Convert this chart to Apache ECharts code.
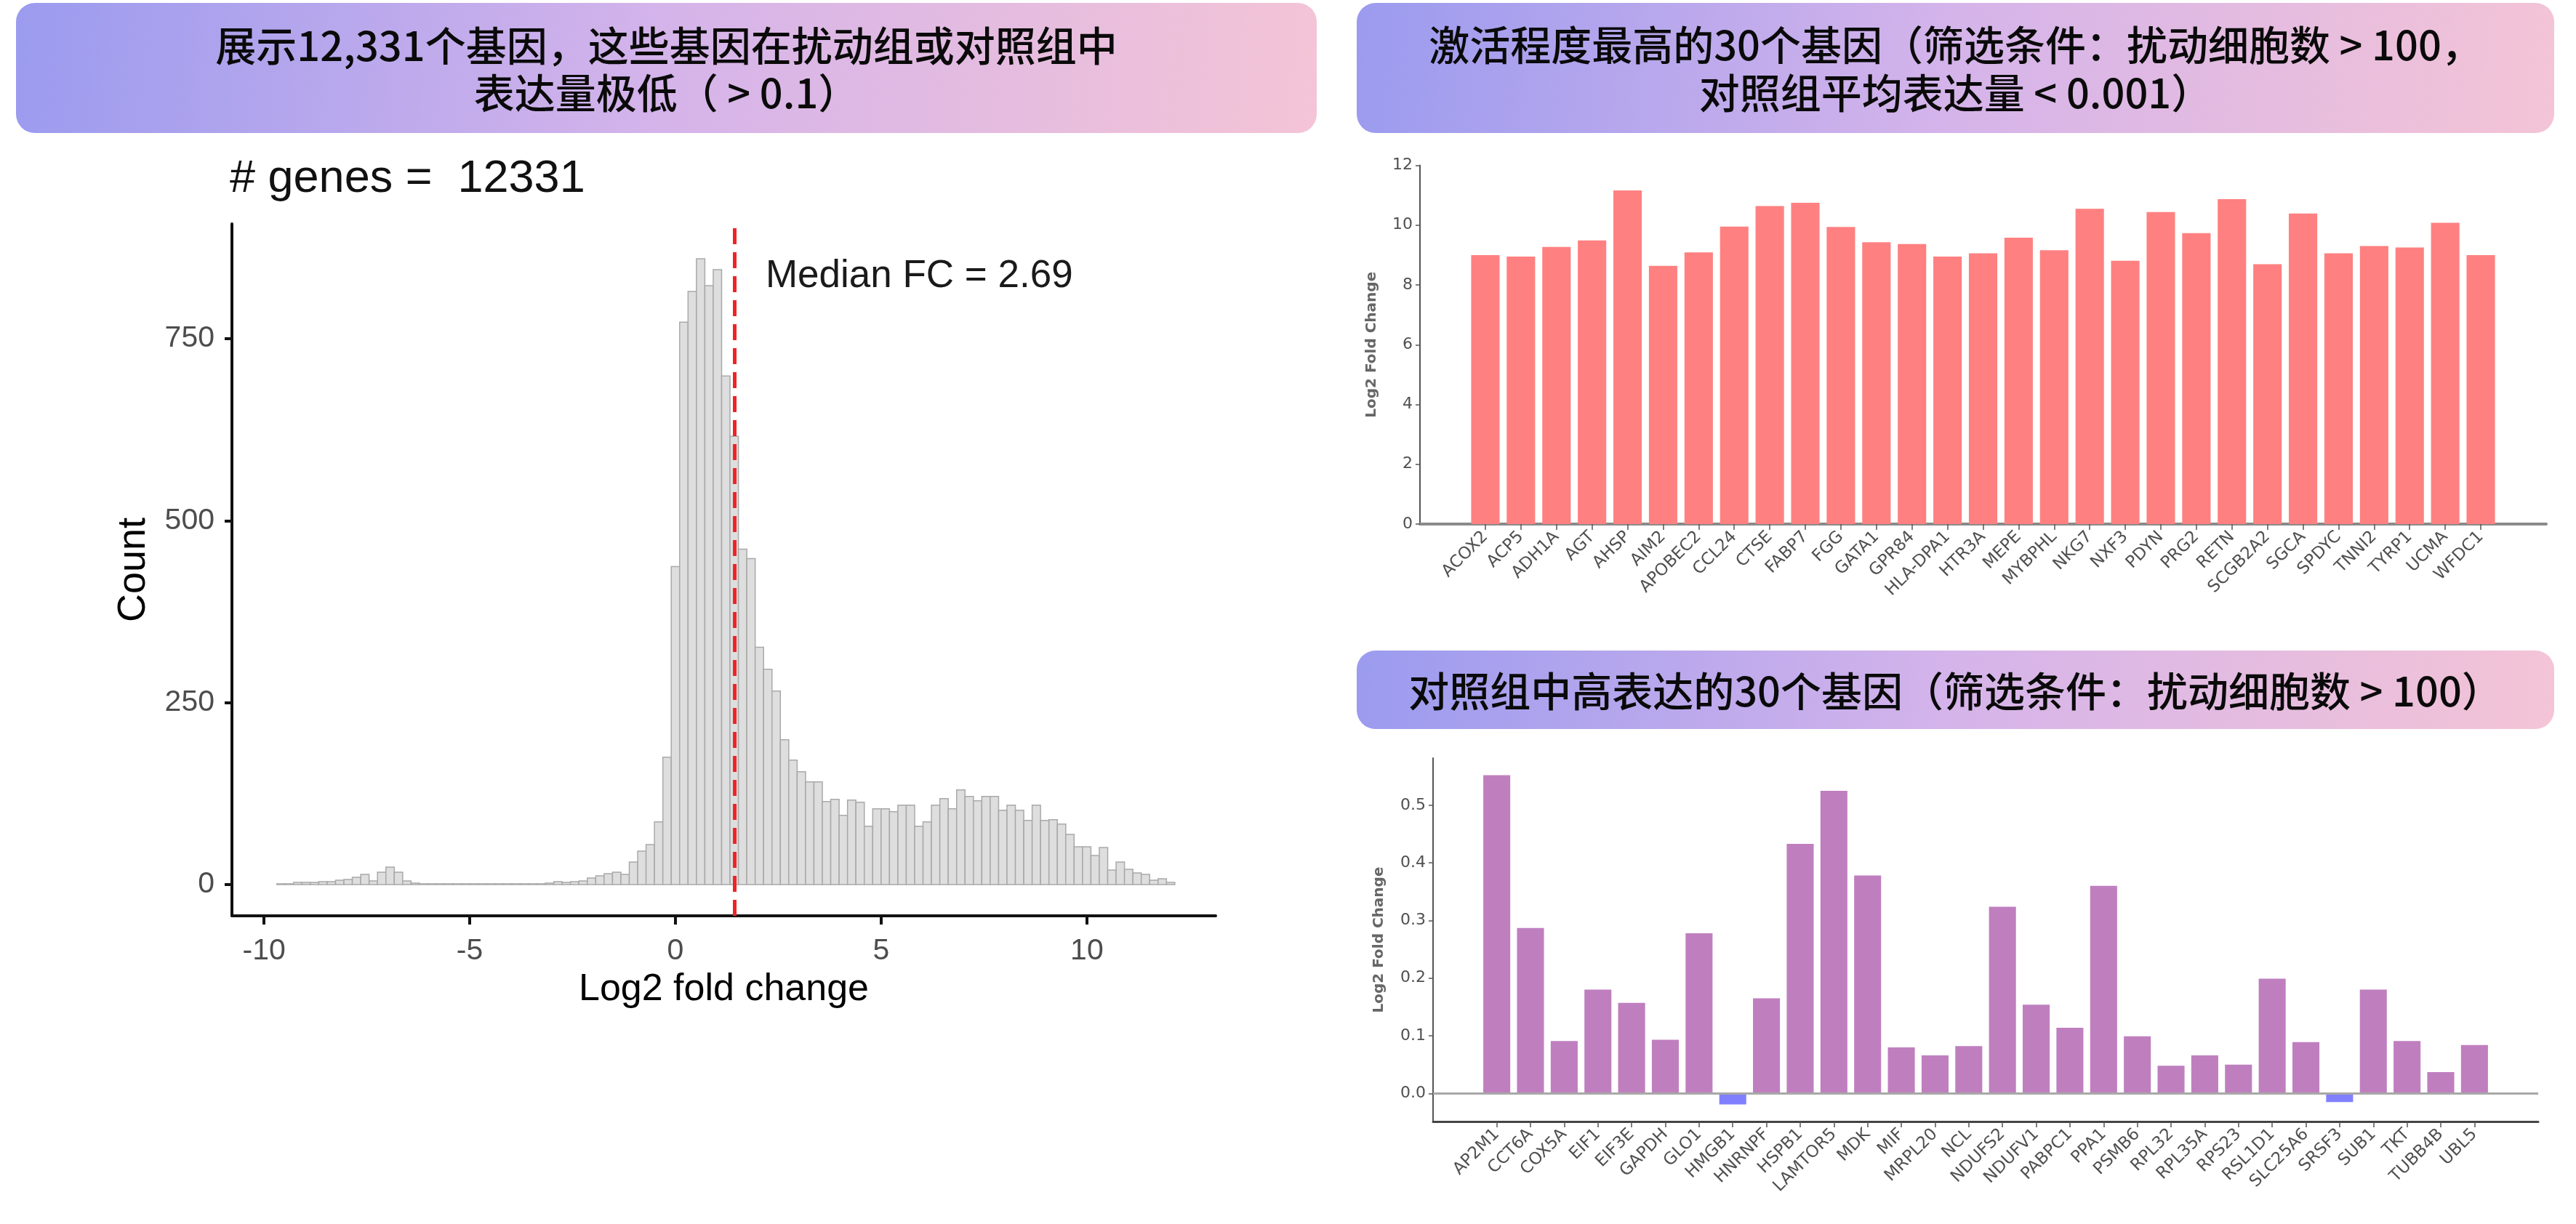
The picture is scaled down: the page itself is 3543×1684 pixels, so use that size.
<!DOCTYPE html>
<html>
<head>
<meta charset="utf-8">
<script src="https://cdn.jsdelivr.net/npm/echarts@6/dist/echarts.min.js"></script>
<style>
html, body { margin: 0; padding: 0; background: #fff; }
#chart { width: 3543px; height: 1684px; }
</style>
</head>
<body>
<div id="chart"></div>
<script>
// 左图：log2 fold change 直方图（每个 bin 的计数）
const histFirstEdge = -9.69
const histBinWidth = 0.204
const histCounts = [
  1, 1, 3, 3, 3, 4, 4, 6, 7, 10, 14, 5, 17, 24, 17, 5, 2,
  1, 1, 1, 1, 1, 1, 1, 1, 1, 1, 1, 1, 1, 1, 1,
  2, 4, 3, 4, 5, 9, 12, 15, 17, 14, 31, 46, 55, 86, 175,
  437, 773, 815, 860, 823, 845, 699, 616, 461, 448,
  326, 296, 266, 199, 171, 155, 141, 141, 114, 117,
  95, 116, 113, 80, 104, 104, 100, 109, 109, 80,
  86, 109, 118, 104, 130, 121, 115, 121, 121, 102,
  109, 102, 88, 109, 88, 89, 83, 69, 52, 52,
  40, 51, 20, 31, 21, 16, 14, 6, 8, 3
]
const medianLog2FC = 1.43
const medianText = 'Median FC = 2.69'
const histTitle = '# genes =  12331'
const histTicksX = [-10, -5, 0, 5, 10]
const histTicksY = [0, 250, 500, 750]

// 右上：激活程度最高的基因
const topGenes = ['ACOX2', 'ACP5', 'ADH1A', 'AGT', 'AHSP', 'AIM2', 'APOBEC2', 'CCL24', 'CTSE', 'FABP7',
  'FGG', 'GATA1', 'GPR84', 'HLA-DPA1', 'HTR3A', 'MEPE', 'MYBPHL', 'NKG7', 'NXF3', 'PDYN',
  'PRG2', 'RETN', 'SCGB2A2', 'SGCA', 'SPDYC', 'TNNI2', 'TYRP1', 'UCMA', 'WFDC1']
const topLFC = [9.0, 8.95, 9.27, 9.49, 11.16, 8.64, 9.09, 9.95, 10.64, 10.75,
  9.94, 9.43, 9.37, 8.95, 9.06, 9.58, 9.16, 10.55, 8.81, 10.44,
  9.73, 10.87, 8.69, 10.39, 9.06, 9.30, 9.25, 10.08, 9.0]

// 右下：对照组中高表达的基因
const ctrlGenes = ['AP2M1', 'CCT6A', 'COX5A', 'EIF1', 'EIF3E', 'GAPDH', 'GLO1', 'HMGB1', 'HNRNPF', 'HSPB1',
  'LAMTOR5', 'MDK', 'MIF', 'MRPL20', 'NCL', 'NDUFS2', 'NDUFV1', 'PABPC1', 'PPA1', 'PSMB6',
  'RPL32', 'RPL35A', 'RPS23', 'RSL1D1', 'SLC25A6', 'SRSF3', 'SUB1', 'TKT', 'TUBB4B', 'UBL5']
const ctrlLFC = [0.552, 0.287, 0.091, 0.180, 0.157, 0.093, 0.278, -0.019, 0.165, 0.433,
  0.525, 0.378, 0.080, 0.066, 0.082, 0.324, 0.154, 0.114, 0.360, 0.099,
  0.048, 0.066, 0.050, 0.199, 0.089, -0.015, 0.180, 0.091, 0.037, 0.084]
const ctrlTicksY = [0, 0.1, 0.2, 0.3, 0.4, 0.5]

const titles = [
  ['展示12,331个基因，这些基因在扰动组或对照组中', '表达量极低（ > 0.1）'],
  ['激活程度最高的30个基因（筛选条件：扰动细胞数 > 100，', '对照组平均表达量 < 0.001）'],
  ['对照组中高表达的30个基因（筛选条件：扰动细胞数 > 100）']
]

const cjk = '"Noto Sans CJK SC", sans-serif'
const helv = '"Liberation Sans", Arial, sans-serif'
const mpl = '"DejaVu Sans", sans-serif'

const chart = echarts.init(document.getElementById('chart'))

const boxFill = () => new echarts.graphic.LinearGradient(0, 0, 1, 1, [
  {offset: 0, color: '#9b9bef'},
  {offset: 0.5, color: '#d5b4ea'},
  {offset: 1, color: '#f4c4d6'}
])

const titleBox = (x, y, w, h, lines, lineYs) => ({
  type: 'group',
  children: [
    {type: 'rect', shape: {x: x, y: y, width: w, height: h, r: 26}, style: {fill: boxFill()}}
  ].concat(lines.map((t, i) => ({
    type: 'text',
    x: x + w / 2,
    y: lineYs[i],
    style: {text: t, fill: '#0a0a0a', fontSize: 56, fontWeight: 500, fontFamily: cjk, align: 'center', verticalAlign: 'middle'}
  })))
})

//直方图 bin
const histItem = (params, api) => {
  const a = api.coord([api.value(0), api.value(2)])
  const b = api.coord([api.value(1), 0])
  return {
    type: 'rect',
    shape: {x: a[0], y: a[1], width: b[0] - a[0], height: b[1] - a[1]},
    style: {fill: '#dedede', stroke: '#a9a9a9', lineWidth: 1.5}
  }
}

// 基因柱子，宽度 0.8
const geneBar = (posColor, negColor) => (params, api) => {
  const i = api.value(0)
  const v = api.value(1)
  const a = api.coord([i - 0.4, v])
  const b = api.coord([i + 0.4, 0])
  return {
    type: 'rect',
    shape: {x: a[0], y: Math.min(a[1], b[1]), width: b[0] - a[0], height: Math.abs(b[1] - a[1])},
    style: {fill: v < 0 ? negColor : posColor}
  }
}

const geneXAxis = (gridIndex, genes, min, max, lineColor, lineWidth) => ({
  type: 'value',
  gridIndex: gridIndex,
  min: min,
  max: max,
  splitLine: {show: false},
  axisLine: {show: true, onZero: false, lineStyle: {color: lineColor, width: lineWidth}},
  axisTick: {show: true, customValues: genes.map((g, i) => i), length: 8, lineStyle: {color: '#555', width: 1.5}},
  axisLabel: {
    customValues: genes.map((g, i) => i),
    formatter: v => genes[Math.round(v)],
    rotate: 45, fontSize: 23, color: '#505050', fontFamily: mpl, margin: 14
  }
})

const geneYAxis = (gridIndex, opts) => Object.assign({
  type: 'value',
  gridIndex: gridIndex,
  name: 'Log2 Fold Change',
  nameLocation: 'middle',
  nameTextStyle: {fontSize: 20, fontWeight: 'bold', color: '#666', fontFamily: mpl},
  splitLine: {show: false},
  axisLine: {show: true, onZero: false, lineStyle: {color: '#555', width: 2}},
  axisTick: {show: true, length: 6, lineStyle: {color: '#555', width: 1.5}},
  axisLabel: {fontSize: 22, color: '#505050', fontFamily: mpl, margin: 10}
}, opts)

const option = {
  backgroundColor: '#fff',
  animation: false,
  graphic: [
    titleBox(22, 4, 1789, 179, titles[0], [63, 128]),
    titleBox(1866, 4, 1647, 179, titles[1], [62, 128]),
    titleBox(1866, 895, 1647, 108, titles[2], [951]),
    {
      type: 'text', x: 316, y: 247,
      style: {text: histTitle, fill: '#111', fontSize: 63, fontFamily: helv, verticalAlign: 'middle'}
    }
  ],
  grid: [
    {left: 319, top: 308, width: 1353, height: 952, outerBoundsMode: 'none'},
    {left: 1953, top: 227.5, width: 1549, height: 493.5, outerBoundsMode: 'none'},
    {left: 1971, top: 1043, width: 1520, height: 500, outerBoundsMode: 'none'}
  ],
  xAxis: [
    {
      type: 'value', gridIndex: 0, min: -10.78, max: 13.13,
      name: 'Log2 fold change', nameLocation: 'middle', nameGap: 76,
      nameTextStyle: {fontSize: 52, color: '#000', fontFamily: helv},
      splitLine: {show: false},
      axisLine: {show: true, onZero: false, lineStyle: {color: '#111', width: 4}},
      axisTick: {show: true, customValues: histTicksX, length: 12, lineStyle: {color: '#111', width: 4}},
      axisLabel: {customValues: histTicksX, fontSize: 41, color: '#4d4d4d', fontFamily: helv, margin: 28}
    },
    geneXAxis(1, topGenes, -1.84, 29.84, '#8a8a8a', 4),
    geneXAxis(2, ctrlGenes, -1.89, 30.89, '#444', 3)
  ],
  yAxis: [
    {
      type: 'value', gridIndex: 0, min: -43, max: 908,
      name: 'Count', nameLocation: 'middle', nameGap: 108,
      nameTextStyle: {fontSize: 54, color: '#000', fontFamily: helv},
      splitLine: {show: false},
      axisLine: {show: true, onZero: false, lineStyle: {color: '#111', width: 4}},
      axisTick: {show: true, customValues: histTicksY, length: 10, lineStyle: {color: '#111', width: 4}},
      axisLabel: {customValues: histTicksY, fontSize: 41, color: '#4d4d4d', fontFamily: helv, margin: 24}
    },
    geneYAxis(1, {min: 0, max: 12, interval: 2, nameGap: 56}),
    geneYAxis(2, {
      min: -0.0487, max: 0.5817, nameGap: 64,
      axisTick: {show: true, customValues: ctrlTicksY, length: 6, lineStyle: {color: '#555', width: 1.5}},
      axisLabel: {customValues: ctrlTicksY, formatter: v => v.toFixed(1), fontSize: 22, color: '#505050', fontFamily: mpl, margin: 10}
    })
  ],
  series: [
    {
      type: 'custom',
      coordinateSystem: 'cartesian2d',
      xAxisIndex: 0, yAxisIndex: 0,
      renderItem: histItem,
      encode: {x: [0, 1], y: 2},
      data: histCounts.map((c, i) => [histFirstEdge + i * histBinWidth, histFirstEdge + (i + 1) * histBinWidth, c]),
      markLine: {
        silent: true,
        symbol: ['none', 'none'],
        label: {show: false},
        lineStyle: {color: '#f02424', type: [22, 11], width: 5},
        data: [{xAxis: medianLog2FC}]
      },
      markPoint: {
        silent: true,
        data: [{
          coord: [2.19, 836], symbol: 'circle', symbolSize: 0,
          label: {show: true, position: 'right', distance: 0, formatter: medianText, fontSize: 53, color: '#1a1a1a', fontFamily: helv}
        }]
      }
    },
    {
      type: 'custom',
      coordinateSystem: 'cartesian2d',
      xAxisIndex: 1, yAxisIndex: 1,
      renderItem: geneBar('#ff8080', '#8080ff'),
      encode: {x: 0, y: 1},
      data: topLFC.map((v, i) => [i, v])
    },
    {
      type: 'custom',
      coordinateSystem: 'cartesian2d',
      xAxisIndex: 2, yAxisIndex: 2,
      renderItem: geneBar('#bf7fbf', '#8080ff'),
      encode: {x: 0, y: 1},
      data: ctrlLFC.map((v, i) => [i, v]),
      markLine: {
        silent: true,
        symbol: ['none', 'none'],
        label: {show: false},
        lineStyle: {color: '#a8a8a8', type: 'solid', width: 3},
        data: [{yAxis: 0}]
      }
    }
  ]
}

chart.setOption(option)
</script>
</body>
</html>
